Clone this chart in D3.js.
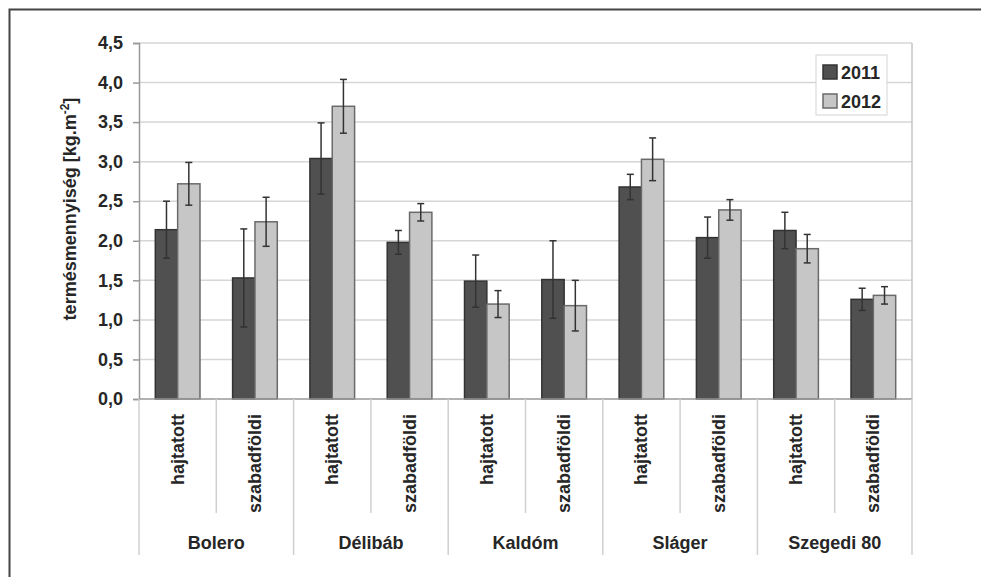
<!DOCTYPE html>
<html>
<head>
  <meta charset="utf-8">
  <title>Termésmennyiség</title>
  <style>
    body { margin: 0; background: #fff; }
    text { font-family: "Liberation Sans", Arial, sans-serif; font-weight: bold; fill: #262626; }
  </style>
</head>
<body>
  <div id="chart"></div>
  <script src="https://d3js.org/d3.v7.min.js"></script>
  <script>
    // data
    const varieties = ['Bolero', 'Délibáb', 'Kaldóm', 'Sláger', 'Szegedi 80'];
    const methods = ['hajtatott', 'szabadföldi'];
    const years = ['2011', '2012'];
    // one value per (variety, method), in order
    const values2011 = [2.14, 1.53, 3.04, 1.98, 1.49, 1.51, 2.68, 2.04, 2.13, 1.26];
    const values2012 = [2.72, 2.24, 3.70, 2.36, 1.20, 1.18, 3.03, 2.39, 1.90, 1.31];
    const err2011 = [0.36, 0.62, 0.45, 0.15, 0.33, 0.49, 0.16, 0.26, 0.23, 0.14];
    const err2012 = [0.27, 0.31, 0.34, 0.11, 0.17, 0.32, 0.27, 0.13, 0.18, 0.11];
    const yTicks = [0, 0.5, 1, 1.5, 2, 2.5, 3, 3.5, 4, 4.5];

    const colors = { '2011': '#505050', '2012': '#c6c6c6' };
    const strokes = { '2011': '#333', '2012': '#6a6a6a' };

    const W = 981, H = 577;
    const margin = { top: 43, right: 69, bottom: 178, left: 139 };
    const width = W - margin.left - margin.right,
      height = H - margin.top - margin.bottom;

    const svg = d3.select('#chart').append('svg')
      .attr('width', W)
      .attr('height', H);

    // outer frame (only top and left edges show)
    svg.append('path')
      .attr('d', `M9.5,${H} V9.5 H${W}`)
      .attr('fill', 'none')
      .attr('stroke', '#444')
      .attr('stroke-width', 2);

    const g = svg.append('g')
      .attr('transform', `translate(${margin.left}, ${margin.top})`);

    const cats = [];
    varieties.forEach(v => methods.forEach(m => cats.push(v + '|' + m)));

    const rows = cats.map((c, i) => ({
      cat: c,
      bars: [
        { year: '2011', value: values2011[i], err: err2011[i] },
        { year: '2012', value: values2012[i], err: err2012[i] }
      ]
    }));

    const x = d3.scaleBand().domain(cats).range([0, width]).padding(0);
    const xi = d3.scaleBand().domain(years).range([0, x.bandwidth()])
      .paddingInner(0).paddingOuter(0.73);
    const y = d3.scaleLinear().domain([0, 4.5]).range([height, 0]);

    // gridlines
    g.append('g')
      .selectAll('line')
      .data(yTicks.filter(t => t > 0))
      .join('line')
      .attr('x1', 0).attr('x2', width)
      .attr('y1', d => y(d)).attr('y2', d => y(d))
      .attr('stroke', '#d6d6d6')
      .attr('stroke-width', 1.5);

    // plot border right
    g.append('line')
      .attr('x1', width).attr('x2', width)
      .attr('y1', 0).attr('y2', height)
      .attr('stroke', '#c4c4c4').attr('stroke-width', 1.5);

    // y axis
    const yAxis = g.append('g')
      .call(d3.axisLeft(y).tickValues(yTicks).tickSize(6).tickPadding(10)
        .tickFormat(d => d3.format('.1f')(d).replace('.', ',')));
    yAxis.select('.domain').attr('stroke', '#999').attr('stroke-width', 1.5);
    yAxis.selectAll('.tick line').attr('stroke', '#999').attr('stroke-width', 1.5);
    yAxis.selectAll('.tick text').style('font-size', '18px').attr('fill', '#262626');

    // bars
    const cat = g.selectAll('.cat')
      .data(rows)
      .join('g')
      .attr('class', 'cat')
      .attr('transform', d => `translate(${x(d.cat)},0)`);

    cat.selectAll('rect')
      .data(d => d.bars)
      .join('rect')
      .attr('x', d => xi(d.year))
      .attr('y', d => y(d.value))
      .attr('width', xi.bandwidth())
      .attr('height', d => height - y(d.value))
      .attr('fill', d => colors[d.year])
      .attr('stroke', d => strokes[d.year])
      .attr('stroke-width', 1.5);

    // error bars
    const eb = cat.selectAll('.err')
      .data(d => d.bars)
      .join('g')
      .attr('class', 'err')
      .attr('transform', d => `translate(${xi(d.year) + xi.bandwidth() / 2},0)`)
      .attr('stroke', '#333')
      .attr('stroke-width', 1.5);
    eb.append('line')
      .attr('y1', d => y(d.value + d.err)).attr('y2', d => y(d.value - d.err));
    eb.append('line')
      .attr('x1', -3.5).attr('x2', 3.5)
      .attr('y1', d => y(d.value + d.err)).attr('y2', d => y(d.value + d.err));
    eb.append('line')
      .attr('x1', -3.5).attr('x2', 3.5)
      .attr('y1', d => y(d.value - d.err)).attr('y2', d => y(d.value - d.err));

    // x axis line
    g.append('line')
      .attr('x1', 0).attr('x2', width)
      .attr('y1', height).attr('y2', height)
      .attr('stroke', '#999').attr('stroke-width', 1.5);

    // category separators
    const xs = d3.range(cats.length + 1).map(i => i * x.step());
    g.append('g')
      .selectAll('line')
      .data(xs)
      .join('line')
      .attr('x1', d => d).attr('x2', d => d)
      .attr('y1', height)
      .attr('y2', (d, i) => i % 2 === 0 ? height + 156 : height + 114)
      .attr('stroke', '#d0d0d0')
      .attr('stroke-width', 1.5);

    // method labels (rotated)
    g.append('g')
      .selectAll('text')
      .data(cats)
      .join('text')
      .attr('transform', d => `translate(${x(d) + x.bandwidth() / 2 + 6},${height + 15}) rotate(-90)`)
      .attr('text-anchor', 'end')
      .style('font-size', '18px')
      .text(d => d.split('|')[1]);

    // variety labels
    g.append('g')
      .selectAll('text')
      .data(varieties)
      .join('text')
      .attr('x', (d, i) => (i * 2 + 1) * x.step())
      .attr('y', height + 150)
      .attr('text-anchor', 'middle')
      .style('font-size', '18px')
      .text(d => d);

    // y title
    const yt = svg.append('text')
      .attr('transform', `translate(76,${margin.top + height / 2 - 12}) rotate(-90)`)
      .attr('text-anchor', 'middle')
      .style('font-size', '18px');
    yt.append('tspan').text('termésmennyiség [kg.m');
    yt.append('tspan').attr('dy', -7).style('font-size', '12px').text('-2');
    yt.append('tspan').attr('dy', 7).text(']');

    // legend
    const lg = svg.append('g').attr('transform', 'translate(816,55)');
    lg.append('rect')
      .attr('width', 71).attr('height', 60)
      .attr('fill', '#fff').attr('stroke', '#d4d4d4').attr('stroke-width', 1);
    years.forEach((yr, i) => {
      lg.append('rect')
        .attr('x', 7).attr('y', 10 + i * 29)
        .attr('width', 14).attr('height', 14)
        .attr('fill', colors[yr]).attr('stroke', strokes[yr]).attr('stroke-width', 1.5);
      lg.append('text')
        .attr('x', 25).attr('y', 24 + i * 29)
        .style('font-size', '18px')
        .text(yr);
    });
  </script>
</body>
</html>
